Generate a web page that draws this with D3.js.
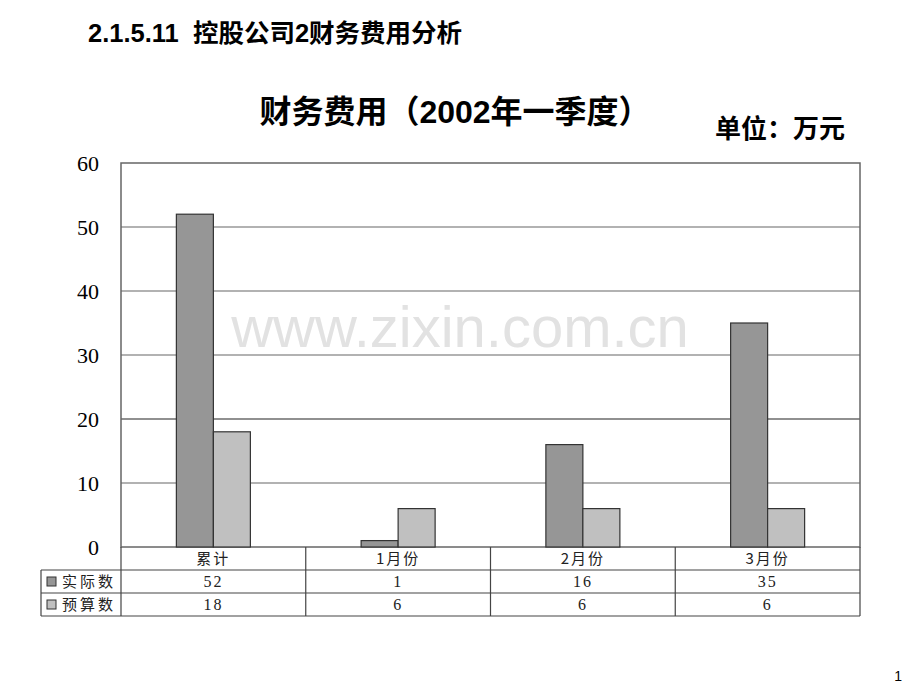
<!DOCTYPE html>
<html><head><meta charset="utf-8">
<script src="https://cdn.jsdelivr.net/npm/d3@7"></script>
<style>body{margin:0;background:#fff}svg{display:block}</style>
</head><body>
<script>
const categories = ["累计", "1月份", "2月份", "3月份"];
const seriesNames = ["实际数", "预算数"];
const actual = [52, 1, 16, 35];
const budget = [18, 6, 6, 6];
const yTicks = [0, 10, 20, 30, 40, 50, 60];
const colors = ["#969696", "#C0C0C0"];

const W = 920, H = 691;
const svg = d3.select("body").append("svg").attr("width", W).attr("height", H);
const cjk = "'Noto Sans CJK SC', 'Noto Sans', sans-serif";
const serif = "'Liberation Serif', 'DejaVu Serif', serif";

const L = 121, R = 860, T = 163, B = 547;
const x = d3.scaleBand().domain(categories).range([L, R]);
const y = d3.scaleLinear().domain([0, 60]).range([B, T]);
const inner = d3.scaleBand().domain(seriesNames).range([0, 74]);

// heading
svg.append("text").attr("x", 88).attr("y", 42).attr("font-family", "'Liberation Sans', Arial, " + cjk)
  .attr("font-weight", "bold").attr("font-size", 25.5).attr("fill", "#000").attr("xml:space", "preserve")
  .text("2.1.5.11  控股公司2财务费用分析");
svg.append("text").attr("x", 455).attr("y", 123).attr("text-anchor", "middle")
  .attr("font-family", "'Liberation Sans', Arial, " + cjk).attr("font-weight", "bold").attr("font-size", 32)
  .text("财务费用（2002年一季度）");
svg.append("text").attr("x", 845).attr("y", 138).attr("text-anchor", "end")
  .attr("font-family", cjk).attr("font-weight", "bold").attr("font-size", 26).text("单位：万元");

// gridlines
svg.append("g").selectAll("line").data(yTicks.filter(d => d > 0 && d < 60)).join("line")
  .attr("x1", L).attr("x2", R).attr("y1", d => y(d)).attr("y2", d => y(d))
  .attr("stroke", d => d === 20 ? "#222" : "#666").attr("stroke-width", 1.2);

// plot border
svg.append("rect").attr("x", L).attr("y", T).attr("width", R - L).attr("height", B - T)
  .attr("fill", "none").attr("stroke", "#666").attr("stroke-width", 1.5);

// watermark
svg.append("text").attr("x", 460).attr("y", 347).attr("text-anchor", "middle")
  .attr("font-family", "'Liberation Sans', Arial, sans-serif").attr("font-size", 58)
  .attr("fill", "#e2e2e2").text("www.zixin.com.cn");

// y axis labels
svg.append("g").selectAll("text").data(yTicks).join("text")
  .attr("x", 99).attr("y", d => y(d) + 8).attr("text-anchor", "end")
  .attr("font-family", serif).attr("font-size", 22).attr("fill", "#000").text(d => d);

// bars
const seriesData = [actual, budget];
seriesNames.forEach((s, si) => {
  svg.append("g").selectAll("rect").data(categories).join("rect")
    .attr("x", c => x(c) + x.bandwidth() / 2 - 37 + inner(s))
    .attr("y", (c, i) => y(seriesData[si][i]))
    .attr("width", inner.bandwidth())
    .attr("height", (c, i) => B - y(seriesData[si][i]))
    .attr("fill", colors[si]).attr("stroke", "#333").attr("stroke-width", 1.2);
});

// data table
const rowH = 23, TL = 41;
const tbl = svg.append("g").attr("stroke", "#444").attr("stroke-width", 1.2);
[B + rowH, B + 2 * rowH, B + 3 * rowH].forEach(yy => {
  tbl.append("line").attr("x1", TL).attr("x2", R).attr("y1", yy).attr("y2", yy);
});
tbl.append("line").attr("x1", TL).attr("x2", TL).attr("y1", B + rowH).attr("y2", B + 3 * rowH);
[L, ...categories.slice(1).map(c => x(c)), R].forEach(xx => {
  tbl.append("line").attr("x1", xx).attr("x2", xx).attr("y1", B).attr("y2", B + 3 * rowH);
});
svg.append("g").selectAll("text").data(categories).join("text")
  .attr("x", c => x(c) + x.bandwidth() / 2).attr("y", B + 17).attr("text-anchor", "middle")
  .attr("font-family", cjk).attr("font-size", 15).attr("fill", "#222").attr("letter-spacing", 2).text(c => c);
seriesNames.forEach((s, si) => {
  const ry = B + rowH * (si + 1);
  svg.append("rect").attr("x", 47).attr("y", ry + 7).attr("width", 9).attr("height", 9)
    .attr("fill", colors[si]).attr("stroke", "#333").attr("stroke-width", 1);
  svg.append("text").attr("x", 62).attr("y", ry + 17).attr("font-family", cjk).attr("font-size", 15)
    .attr("letter-spacing", 3).attr("fill", "#222").text(s);
  svg.append("g").selectAll("text").data(categories).join("text")
    .attr("x", c => x(c) + x.bandwidth() / 2).attr("y", ry + 17).attr("text-anchor", "middle")
    .attr("font-family", serif).attr("font-size", 16).attr("fill", "#222").attr("letter-spacing", 2)
    .text((c, i) => seriesData[si][i]);
});

// page number
svg.append("text").attr("x", 902).attr("y", 681).attr("text-anchor", "end")
  .attr("font-family", "'Liberation Sans', Arial, sans-serif").attr("font-size", 14).text("1");
</script>
</body></html>
